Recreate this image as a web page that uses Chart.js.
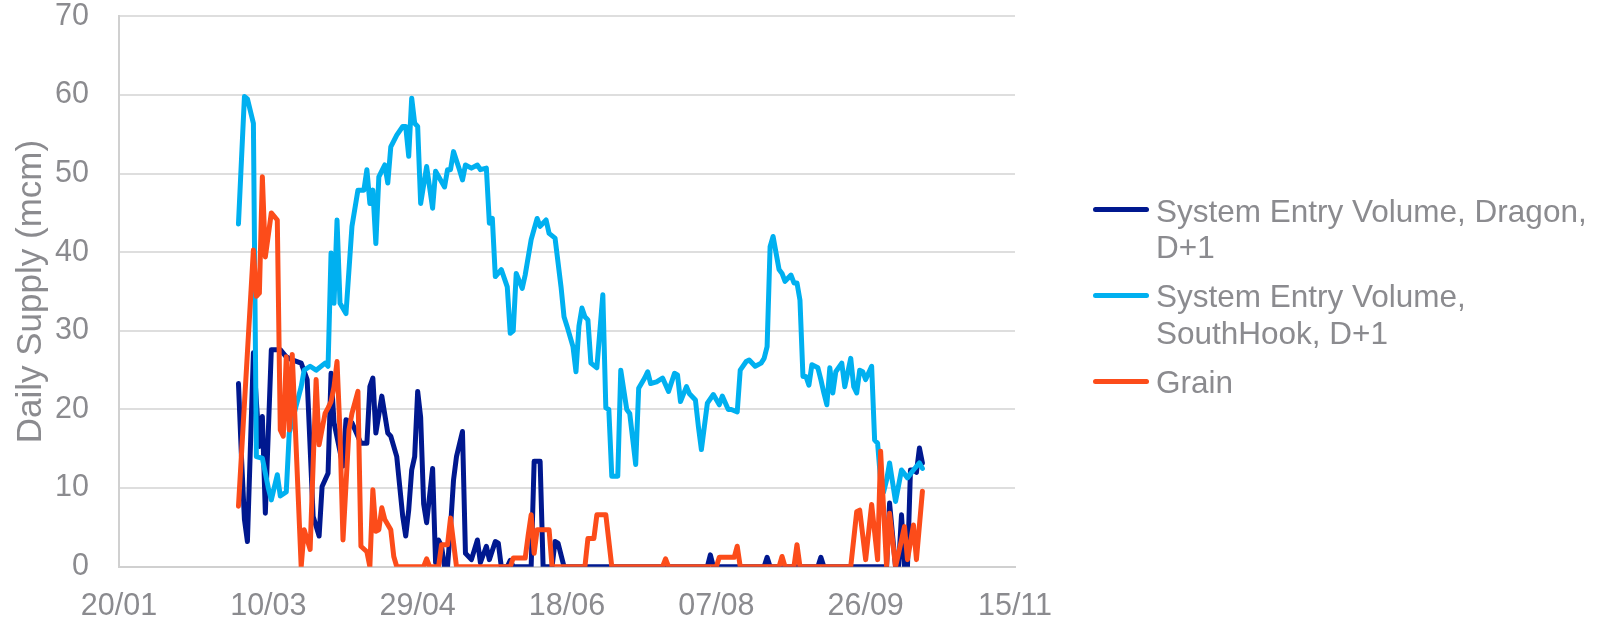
<!DOCTYPE html>
<html lang="en">
<head>
    <meta charset="UTF-8">
    <title>Daily Supply</title>
    <script src="https://cdn.jsdelivr.net/npm/chart.js"></script>
    <style>
        html, body { margin: 0; padding: 0; background: #fff; overflow: hidden; }
        #wrap { position: relative; width: 1598px; height: 623px; }
        #supplyChart { position: absolute; left: 0; top: 0; }
        #legend {
            position: absolute; left: 1093px; top: 192.5px;
            font-family: 'Liberation Sans', Arial, sans-serif;
            font-size: 31.5px; line-height: 36.6px; color: #8b8b8f;
        }
        .item { position: relative; padding-left: 63px; width: 442px; margin-bottom: 12.8px; }
        .swatch { position: absolute; left: 0; top: 14.6px; width: 56px; height: 5px; border-radius: 2.5px; }
    </style>
</head>
<body>
    <div id="wrap">
        <canvas id="supplyChart" width="1598" height="623"></canvas>
        <div id="legend"></div>
    </div>

    <script>
        // x = days since 20/01
        const xTickLabels = ['20/01', '10/03', '29/04', '18/06', '07/08', '26/09', '15/11'];

        const dragonDays = [40, 41, 42, 43, 45, 46, 47, 48, 49, 51, 54, 56, 58, 61, 63, 65, 67, 68, 70, 71, 72, 75, 76, 78, 81, 83, 84, 85, 86, 88, 90, 91, 93, 95, 96, 97, 98, 99, 100, 101, 102, 103, 105, 106, 107, 108, 109, 110, 111, 112, 113, 115, 116, 118, 120, 121, 123, 124, 126, 127, 128, 130, 131, 132, 138, 139, 141, 142, 145, 146, 147, 149, 197, 198, 199, 216, 217, 218, 234, 235, 236, 257, 258, 260, 261, 262, 263, 264, 265, 266, 267, 268, 269];
        const dragonVals = [23.3, 14, 6, 3.2, 27.2, 21, 15.3, 19.1, 6.8, 27.6, 27.6, 26.7, 26.3, 25.9, 23.8, 6.4, 3.9, 10.2, 11.9, 24.6, 18.3, 12.8, 18.7, 18.3, 15.7, 15.7, 22.9, 24, 17, 21.7, 17, 16.6, 14, 6.4, 3.9, 7.2, 12.3, 14, 22.3, 19, 8, 5.6, 12.5, 0.5, 3.4, 2.6, 0, 0, 5, 11, 14, 17.2, 1.7, 0.9, 3.4, 0.5, 2.6, 0.9, 3.2, 3, 0, 0, 0.8, 0, 0, 13.4, 13.4, 0, 0, 3.2, 3, 0, 0, 1.5, 0, 0, 1.2, 0, 0, 1.2, 0, 0, 8.1, 0, 0, 6.6, 0, 0, 12.3, 12.3, 12, 15.1, 13.2];

        const southHookDays = [40, 42, 43, 45, 46, 48, 50, 51, 53, 54, 56, 57, 59, 61, 62, 64, 66, 69, 70, 71, 72, 73, 74, 76, 78, 80, 82, 83, 84, 85, 86, 87, 89, 90, 91, 93, 95, 96, 97, 98, 99, 100, 101, 103, 105, 106, 109, 110, 111, 112, 114, 115, 116, 118, 120, 121, 123, 124, 125, 126, 128, 130, 131, 132, 133, 135, 136, 138, 140, 141, 143, 144, 146, 148, 149, 150, 152, 153, 154, 155, 156, 157, 158, 160, 162, 163, 164, 165, 167, 168, 170, 171, 173, 174, 176, 177, 178, 180, 182, 184, 186, 187, 188, 190, 191, 193, 194, 195, 197, 199, 201, 202, 204, 205, 207, 208, 210, 211, 213, 215, 216, 217, 218, 219, 221, 222, 223, 225, 226, 227, 228, 229, 230, 231, 232, 234, 235, 236, 237, 238, 239, 240, 242, 243, 245, 246, 247, 248, 249, 250, 252, 253, 254, 255, 256, 257, 258, 260, 262, 264, 266, 268, 269];
        const southHookVals = [43.6, 59.8, 59.5, 56.4, 14, 13.8, 10, 8.5, 11.7, 9, 9.5, 17, 20, 22.9, 25, 25.5, 25, 25.9, 25.5, 39.9, 33.5, 44.1, 33.5, 32.2, 43.3, 47.9, 47.9, 50.5, 46.2, 47.9, 41.1, 49.6, 51.1, 48.8, 53.4, 54.9, 56, 56, 52.2, 59.6, 56.4, 56, 46.2, 50.9, 45.6, 50.3, 48.3, 50.5, 50.5, 52.8, 50.5, 49.2, 51.1, 50.7, 51.1, 50.5, 50.7, 43.7, 44.3, 36.9, 37.8, 35.6, 29.7, 30, 37.3, 35.4, 37.1, 41.6, 44.3, 43.3, 44.1, 42.4, 41.8, 35.6, 31.8, 30.6, 28, 24.8, 30.6, 32.9, 31.8, 31.4, 25.9, 25.3, 34.6, 20.2, 20, 11.5, 11.5, 25, 20, 19.5, 13, 22.7, 24, 24.8, 23.3, 23.5, 24, 22.3, 24.6, 24.4, 21, 22.9, 22, 21.2, 17.8, 14.9, 20.8, 21.9, 20.6, 21.7, 20, 20, 19.7, 25, 26.1, 26.3, 25.5, 25.9, 26.5, 28, 40.7, 42, 37.8, 37.3, 36.3, 37.1, 36.1, 36.1, 33.9, 24.2, 24.2, 23.1, 25.7, 25.3, 23.8, 22.1, 20.6, 25.3, 22.1, 24.8, 25.9, 22.9, 26.5, 22.9, 22.1, 25, 24.8, 23.8, 25.5, 16.1, 15.7, 11, 9.5, 11, 13.2, 8.3, 12.3, 11.3, 12.3, 13.2, 12.5];

        const grainDays = [40, 45, 46, 47, 48, 49, 51, 53, 54, 55, 56, 57, 58, 61, 62, 64, 66, 67, 69, 70, 71, 72, 73, 74, 75, 77, 78, 80, 81, 83, 84, 85, 86, 87, 88, 89, 91, 92, 93, 102, 103, 104, 107, 108, 110, 111, 113, 131, 132, 136, 137, 138, 139, 140, 144, 145, 156, 157, 159, 160, 163, 165, 182, 183, 184, 200, 201, 206, 207, 208, 221, 222, 223, 226, 227, 228, 245, 247, 248, 250, 252, 254, 255, 257, 258, 260, 263, 264, 266, 267, 269];
        const grainVals = [7.7, 40.3, 34.4, 34.8, 49.6, 39.4, 45, 44.1, 17.4, 16.6, 26.7, 17.4, 27, 0, 4.7, 2.2, 23.8, 15.5, 19.5, 20.2, 21, 22.9, 26.1, 17, 3.4, 17.4, 19.5, 22.3, 2.6, 1.9, 0, 9.8, 4.5, 4.7, 7.5, 6, 4.7, 1.3, 0, 0, 1, 0, 0, 2.8, 2.8, 6.2, 0, 0, 1.1, 1.1, 4, 6.6, 1.7, 4.7, 4.7, 0, 0, 3.6, 3.6, 6.6, 6.6, 0, 0, 1, 0, 0, 1.2, 1.2, 2.6, 0, 0, 1.3, 0, 0, 2.8, 0, 0, 7, 7.2, 0.9, 7.9, 0.9, 14.7, 0, 6.8, 0, 5.1, 0.9, 5.3, 0.9, 9.6];

        const textGray = '#8b8b8f';
        const fontFamily = "'Liberation Sans', Arial, sans-serif";

        function toPoints(days, vals) {
            return days.map((d, i) => ({ x: d, y: vals[i] }));
        }

        const series = [
            { label: 'System Entry Volume, Dragon, D+1', color: '#00188f', data: toPoints(dragonDays, dragonVals), order: 2 },
            { label: 'System Entry Volume, SouthHook, D+1', color: '#00b0f0', data: toPoints(southHookDays, southHookVals), order: 1 },
            { label: 'Grain', color: '#fc4c1a', data: toPoints(grainDays, grainVals), order: 0 }
        ];

        Chart.defaults.font.family = fontFamily;
        Chart.defaults.color = textGray;

        const ctx = document.getElementById('supplyChart').getContext('2d');
        const chart = new Chart(ctx, {
            type: 'line',
            data: {
                datasets: series.map(s => ({
                    label: s.label,
                    data: s.data,
                    order: s.order,
                    borderColor: s.color,
                    backgroundColor: s.color,
                    borderWidth: 5,
                    borderCapStyle: 'round',
                    borderJoinStyle: 'round',
                    pointRadius: 0,
                    fill: false,
                    tension: 0
                }))
            },
            options: {
                responsive: false,
                animation: false,
                layout: { padding: { top: 16.4, right: 583, left: 0, bottom: 0 } },
                plugins: {
                    legend: { display: false },
                    tooltip: { enabled: false }
                },
                scales: {
                    x: {
                        type: 'linear',
                        min: 0,
                        max: 300,
                        afterFit: (scale) => { scale.height = 56.3; },
                        grid: { display: false, drawTicks: false },
                        border: { display: true, color: '#d0d0d0', width: 2 },
                        ticks: {
                            stepSize: 50,
                            padding: 22,
                            maxRotation: 0,
                            font: { size: 30.5, lineHeight: 1.2 },
                            callback: (v) => xTickLabels[v / 50]
                        }
                    },
                    y: {
                        min: 0,
                        max: 70,
                        afterFit: (scale) => {
                            scale.width = 119;
                            scale.paddingTop = 0;
                            scale.paddingBottom = 0;
                        },
                        grid: { color: '#dedede', lineWidth: 2, drawTicks: false },
                        border: { display: true, color: '#d0d0d0', width: 2 },
                        ticks: {
                            stepSize: 10,
                            padding: 30,
                            font: { size: 30.5, lineHeight: 1.0 }
                        },
                        title: {
                            display: true,
                            text: 'Daily Supply (mcm)',
                            font: { size: 35, lineHeight: 1.2 },
                            padding: { top: 10, bottom: 0 }
                        }
                    }
                }
            }
        });

        // legend with wrapped labels, as in the original
        const legendEl = document.getElementById('legend');
        series.forEach(s => {
            const item = document.createElement('div');
            item.className = 'item';
            const sw = document.createElement('span');
            sw.className = 'swatch';
            sw.style.background = s.color;
            item.appendChild(sw);
            item.appendChild(document.createTextNode(s.label));
            legendEl.appendChild(item);
        });
    </script>
</body>
</html>
